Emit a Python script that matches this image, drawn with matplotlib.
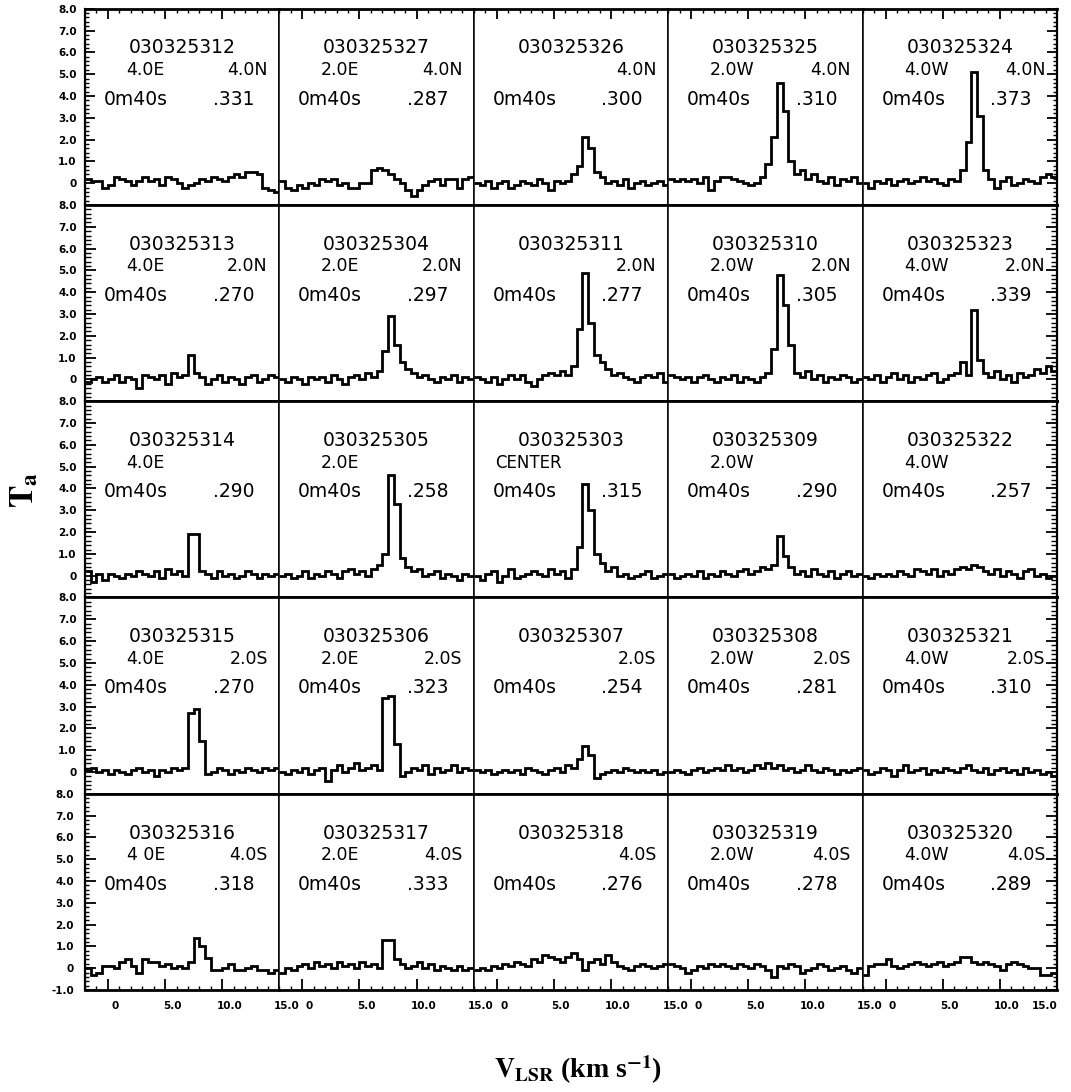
# 5x5 grid of CO spectra around 030325303 (centre), Ta vs V_LSR
import numpy as np
import matplotlib.pyplot as plt
import matplotlib.transforms as mtransforms
from matplotlib.ticker import FixedLocator, FixedFormatter, MultipleLocator

plt.rcParams['mathtext.fontset'] = 'stix'

# velocity channels: start and width (km/s)
v_start = -20
dv = 5

scan_ids = [
    ['030325312', '030325327', '030325326', '030325325', '030325324'],
    ['030325313', '030325304', '030325311', '030325310', '030325323'],
    ['030325314', '030325305', '030325303', '030325309', '030325322'],
    ['030325315', '030325306', '030325307', '030325308', '030325321'],
    ['030325316', '030325317', '030325318', '030325319', '030325320'],
]
ra_offsets = ['4.0E', '2.0E', '', '2.0W', '4.0W']
ra_offsets_row5 = ['4 0E', '2.0E', '', '2.0W', '4.0W']
dec_offsets = ['4.0N', '2.0N', '', '2.0S', '4.0S']
int_time = '0m40s'
rms = [
    ['.331', '.287', '.300', '.310', '.373'],
    ['.270', '.297', '.277', '.305', '.339'],
    ['.290', '.258', '.315', '.290', '.257'],
    ['.270', '.323', '.254', '.281', '.310'],
    ['.318', '.333', '.276', '.278', '.289'],
]

# spectra, one list of channel values per panel (row by row)
s312 = [0.2,0.1,0.1,-0.2,-0.1,0.3,0.2,0.1,-0.1,0.1, 0.3,0.1,0.2,-0.1,0.3,0.2,0.0,-0.2,-0.1,0.0,
        0.2,0.1,0.3,0.2,0.1,0.3,0.4,0.3,0.5,0.5, 0.4,-0.2,-0.3,-0.4]
s327 = [0.1,-0.2,-0.3,-0.1,-0.2,0.0,-0.1,0.2,0.1,0.2, -0.1,0.0,-0.2,-0.2,0.0,0.0,0.6,0.7,0.6,0.4,
        0.2,0.0,-0.3,-0.6,-0.3,-0.1,0.1,0.2,-0.1,0.2, 0.2,-0.2,0.2,0.3]
s326 = [0.0,-0.1,0.1,-0.2,0.0,0.1,-0.2,-0.1,0.1,0.0, -0.1,0.2,0.0,-0.3,0.1,0.0,0.1,0.4,0.8,2.1,
        1.6,0.5,0.3,0.0,0.1,-0.1,0.2,-0.2,0.0,0.1, -0.1,0.0,0.1,-0.1]
s325 = [0.2,0.1,0.2,0.1,0.2,0.0,0.3,-0.3,0.1,0.3, 0.3,0.2,0.1,0.0,-0.1,0.0,0.3,0.9,2.1,4.6,
        3.3,1.0,0.4,0.6,0.2,0.4,0.1,0.0,0.3,-0.1, 0.2,0.1,0.3,0.0]
s324 = [0.0,-0.2,0.1,0.0,0.2,-0.1,0.1,0.2,0.0,0.1, 0.3,0.1,0.2,0.0,-0.1,0.2,0.1,0.6,1.9,5.1,
        3.1,0.6,0.2,-0.2,0.1,0.3,-0.1,0.0,0.2,0.1, 0.0,0.3,0.4,0.3]

s313 = [-0.1,0.0,0.1,-0.1,0.0,0.2,-0.1,0.1,0.0,-0.4, 0.2,0.1,0.0,0.2,-0.2,0.3,0.1,0.2,1.1,0.3,
        0.1,-0.2,0.0,0.2,-0.1,0.1,0.0,-0.2,0.1,0.2, -0.1,0.0,0.2,0.1]
s304 = [0.0,-0.1,0.1,0.0,-0.2,0.1,0.0,0.1,-0.1,0.2, 0.0,-0.2,0.1,0.2,0.0,0.3,0.1,0.4,1.3,2.9,
        1.6,0.8,0.5,0.3,0.1,0.2,0.0,-0.1,0.1,0.0, 0.2,-0.1,0.1,0.0]
s311 = [0.1,0.0,-0.1,0.1,-0.2,0.0,0.2,0.0,0.2,-0.1, -0.3,0.0,0.2,0.3,0.2,0.4,0.2,0.6,2.3,4.9,
        2.6,1.1,0.8,0.5,0.2,0.3,0.1,0.0,-0.1,0.1, 0.2,0.1,0.3,-0.1]
s310 = [0.2,0.1,0.0,0.1,-0.1,0.1,0.2,0.0,-0.1,0.1, 0.0,0.2,-0.1,0.1,0.0,-0.1,0.1,0.3,1.4,4.8,
        3.4,1.6,0.3,0.1,0.4,0.0,0.2,-0.1,0.1,0.0, 0.2,0.1,-0.1,0.0]
s323 = [0.1,0.0,0.2,-0.1,0.1,0.3,0.0,0.2,-0.1,0.1, 0.0,0.2,0.3,-0.1,0.0,0.2,0.3,0.8,0.2,3.2,
        0.9,0.3,0.1,0.4,0.0,0.2,-0.1,0.3,0.1,0.2, 0.5,0.3,0.6,0.4]

s314 = [0.2,-0.3,0.1,-0.2,0.1,0.0,-0.1,0.1,0.0,0.2, 0.1,0.0,0.2,-0.1,0.3,0.1,0.2,0.0,1.9,1.9,
        0.2,0.1,-0.1,0.2,0.0,0.1,-0.1,0.0,0.2,0.1, -0.1,0.1,0.0,0.1]
s305 = [0.0,0.1,-0.1,0.0,0.2,-0.1,0.1,0.0,0.2,0.1, -0.1,0.2,0.3,0.1,0.2,0.0,0.3,0.5,1.0,4.6,
        3.3,0.8,0.4,0.2,0.3,0.0,0.1,0.2,-0.1,0.1, 0.0,-0.2,0.1,0.0]
s303 = [0.0,-0.2,0.1,0.2,-0.3,0.0,0.3,-0.1,0.0,0.1, 0.2,0.1,0.0,0.3,0.1,0.2,-0.1,0.3,1.3,4.2,
        3.0,1.0,0.6,0.2,0.4,0.0,0.1,-0.1,0.0,0.1, 0.2,-0.1,0.0,0.1]
s309 = [0.1,-0.1,0.0,0.1,0.0,0.2,-0.1,0.1,0.0,0.2, 0.1,0.0,0.2,0.3,0.1,0.2,0.4,0.3,0.5,1.8,
        0.9,0.4,0.1,0.2,0.0,0.3,0.1,0.0,0.2,-0.1, 0.1,0.2,0.0,0.1]
s322 = [0.0,-0.1,0.1,0.0,0.1,0.0,0.2,0.1,0.0,0.3, 0.2,0.1,0.3,0.0,0.2,0.1,0.3,0.4,0.3,0.5,
        0.4,0.2,0.1,0.3,0.0,0.2,0.1,-0.1,0.2,0.3, 0.0,0.1,-0.1,0.0]

s315 = [0.1,0.2,0.0,0.1,-0.1,0.1,0.0,-0.1,0.1,0.2, 0.0,0.1,-0.2,0.1,0.0,0.2,0.1,0.2,2.7,2.9,
        1.4,-0.1,0.0,0.2,0.1,-0.1,0.1,0.0,0.2,0.1, 0.0,0.2,0.1,0.2]
s306 = [0.0,-0.1,0.1,0.0,0.2,-0.1,0.1,0.2,-0.4,0.1, 0.3,0.0,0.2,0.4,0.1,0.2,0.3,0.1,3.4,3.5,
        1.3,-0.2,0.0,0.2,0.1,0.3,-0.1,0.2,0.0,0.1, 0.3,0.0,0.2,0.1]
s307 = [0.1,0.0,0.1,-0.1,0.0,0.1,0.0,0.1,-0.1,0.2, 0.1,0.0,-0.1,0.1,0.2,0.0,0.3,0.2,0.6,1.2,
        0.8,-0.3,-0.1,0.0,0.1,0.0,0.2,0.1,0.0,0.1, 0.0,0.1,-0.1,0.0]
s308 = [0.0,0.1,0.0,-0.1,0.1,0.2,0.0,0.1,0.2,0.1, 0.3,0.1,0.2,0.0,0.1,0.3,0.2,0.4,0.2,0.3,
        0.1,0.2,0.0,0.1,0.3,0.1,0.0,0.2,0.1,-0.1, 0.1,0.0,0.1,0.2]
s321 = [0.1,-0.1,0.0,0.2,0.1,-0.2,0.1,0.3,0.0,0.1, 0.2,-0.1,0.1,0.0,0.2,0.1,0.0,0.2,0.3,0.1,
        0.0,0.2,-0.1,0.1,0.2,0.0,0.1,-0.1,0.2,0.0, 0.1,-0.1,0.0,-0.2]

s316 = [0.0,-0.3,-0.2,0.1,0.1,0.0,0.3,0.4,0.1,-0.2, 0.4,0.3,0.3,0.1,0.2,0.0,0.1,0.0,0.3,1.4,
        1.0,0.45,-0.1,-0.1,0.0,0.2,-0.1,-0.1,0.0,0.1, -0.1,-0.1,-0.2,-0.1]
s317 = [-0.2,0.0,-0.1,0.1,0.2,0.0,0.3,0.1,0.2,0.0, 0.3,0.1,0.2,0.0,0.3,0.1,0.2,0.0,1.3,1.3,
        0.4,0.2,0.0,0.1,0.3,0.0,0.2,-0.1,0.1,0.0, -0.1,0.1,-0.1,0.0]
s318 = [-0.1,0.0,-0.1,0.1,0.0,0.2,0.1,0.3,0.2,0.1, 0.4,0.3,0.6,0.5,0.4,0.3,0.5,0.7,0.4,-0.1,
        0.3,0.4,0.2,0.6,0.3,0.1,0.0,-0.1,0.1,0.2, 0.1,0.0,0.1,0.2]
s319 = [0.2,0.1,0.0,-0.2,-0.1,0.1,0.0,0.2,0.1,0.2, 0.1,0.0,0.2,0.1,0.0,0.2,0.1,-0.1,-0.4,0.1,
        0.0,0.2,0.1,-0.2,-0.1,0.0,0.2,0.1,-0.1,0.0, 0.1,-0.1,-0.2,0.0]
s320 = [-0.3,0.1,0.2,0.2,0.4,0.1,0.0,0.1,0.2,0.3, 0.2,0.1,0.2,0.3,0.1,0.2,0.3,0.5,0.5,0.3,
        0.2,0.3,0.2,0.1,-0.1,0.2,0.3,0.2,0.1,0.0, 0.0,-0.3,-0.3,-0.2]

spectra = [
    [s312, s327, s326, s325, s324],
    [s313, s304, s311, s310, s323],
    [s314, s305, s303, s309, s322],
    [s315, s306, s307, s308, s321],
    [s316, s317, s318, s319, s320],
]

y_ticks = [-1, 0, 1, 2, 3, 4, 5, 6, 7, 8]
y_labels = ['-1.0', '0', '1.0', '2.0', '3.0', '4.0', '5.0', '6.0', '7.0', '8.0']
x_ticks = [0, 50, 100, 150]
x_labels = ['0', '5.0', '10.0', '15.0']

fig = plt.figure(figsize=(10.71, 10.92), dpi=100)
axes = fig.subplots(5, 5, gridspec_kw=dict(hspace=0, wspace=0, left=0.0794, right=0.987,
                                           top=0.992, bottom=0.0934))

# x tick labels sit a little right of their ticks in the original
shift = mtransforms.ScaledTranslation(0.07, 0, fig.dpi_scale_trans)

for r in range(5):
    for c in range(5):
        ax = axes[r, c]
        vals = spectra[r][c]
        edges = v_start + dv * np.arange(len(vals) + 1)
        ax.stairs(vals, edges, baseline=None, color='black', lw=2.0)
        ax.set_xlim(-20, 150)
        ax.set_ylim(-1, 8)

        # frame: thick horizontal lines, thinner verticals
        ax.spines['top'].set_linewidth(2.0)
        ax.spines['bottom'].set_linewidth(2.0)
        ax.spines['left'].set_linewidth(1.6 if c == 0 else 1.1)
        ax.spines['right'].set_linewidth(1.6 if c == 4 else 1.1)

        ax.tick_params(which='both', direction='in', left=False, right=False, top=False,
                       bottom=False, labelleft=False, labelbottom=False)
        ax.yaxis.set_major_locator(FixedLocator(y_ticks))
        ax.yaxis.set_minor_locator(MultipleLocator(0.2))
        ax.xaxis.set_major_locator(FixedLocator(x_ticks))
        ax.xaxis.set_minor_locator(MultipleLocator(10))
        if c == 0:
            labs = list(y_labels)
            if r < 4:
                labs[0] = ''
            ax.yaxis.set_major_formatter(FixedFormatter(labs))
            ax.tick_params(which='both', left=True, labelleft=True)
            ax.tick_params(which='major', length=8, width=1.3, labelsize=7.5, pad=6)
            ax.tick_params(which='minor', length=4, width=1)
            for t in ax.get_yticklabels():
                t.set_fontweight('bold')
        if c == 4:
            ax.tick_params(which='both', right=True)
            ax.tick_params(which='major', length=8, width=1.3)
            ax.tick_params(which='minor', length=4, width=1)
        if r == 0:
            ax.tick_params(which='both', top=True)
            ax.tick_params(which='major', length=7, width=1.3)
            ax.tick_params(which='minor', length=3, width=1)
        if r == 4:
            ax.xaxis.set_major_formatter(FixedFormatter(x_labels))
            ax.tick_params(which='both', bottom=True, labelbottom=True)
            ax.tick_params(which='major', length=8, width=1.3, labelsize=7.5, pad=8)
            ax.tick_params(which='minor', length=3, width=1)
            tlabs = ax.get_xticklabels()
            for i, t in enumerate(tlabs):
                t.set_fontweight('bold')
                if c == 4 and i == len(tlabs) - 1:
                    # keep the last label inside the figure
                    t.set_horizontalalignment('right')
                else:
                    t.set_transform(t.get_transform() + shift)

        # panel annotations
        ax.text(0.5, 0.80, scan_ids[r][c], transform=ax.transAxes, ha='center',
                va='center', fontsize=13.5)
        if r == 2 and c == 2:
            ax.text(0.11, 0.687, 'CENTER', transform=ax.transAxes, ha='left',
                    va='center', fontsize=12)
        else:
            ra = ra_offsets_row5[c] if r == 4 else ra_offsets[c]
            ax.text(0.214, 0.687, ra, transform=ax.transAxes, ha='left',
                    va='center', fontsize=12.5)
        ax.text(0.94, 0.687, dec_offsets[r], transform=ax.transAxes, ha='right',
                va='center', fontsize=12.5)
        ax.text(0.096, 0.54, int_time, transform=ax.transAxes, ha='left',
                va='center', fontsize=13.5)
        ax.text(0.87, 0.54, rms[r][c], transform=ax.transAxes, ha='right',
                va='center', fontsize=13.5)

fig.text(0.022, 0.551, r'$\mathbf{T_a}$', rotation=90, ha='center', va='center',
         fontsize=24)
fig.text(0.54, 0.02, r'$\mathbf{V_{LSR}}$ (km s$^{\mathbf{-1}}$)', ha='center',
         va='center', fontsize=20, family='Liberation Serif', fontweight='bold')

fig.savefig('out.png', dpi=100)
